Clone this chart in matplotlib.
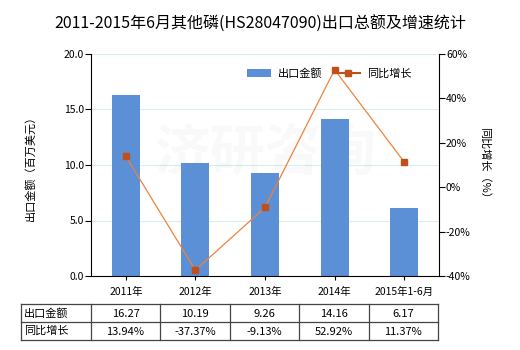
import matplotlib
matplotlib.use('Agg')
import matplotlib.pyplot as plt
from matplotlib.lines import Line2D
from matplotlib.patches import Patch

plt.rcParams['font.family'] = ['Noto Sans CJK SC', 'DejaVu Sans']

# 数据
categories = ['2011年', '2012年', '2013年', '2014年', '2015年1-6月']
export_value = [16.27, 10.19, 9.26, 14.16, 6.17]
growth_rate = [13.94, -37.37, -9.13, 52.92, 11.37]
value_labels = ['16.27', '10.19', '9.26', '14.16', '6.17']
growth_labels = ['13.94%', '-37.37%', '-9.13%', '52.92%', '11.37%']

bar_color = '#5B8FD6'
line_color = '#F0823A'
marker_color = '#C0501A'

W, H = 520, 350
fig = plt.figure(figsize=(W / 100, H / 100), dpi=100)

# 主图区域（像素换算成比例）
left, right, top, bottom = 91, 439, 54, 276
ax = fig.add_axes([left / W, 1 - bottom / H, (right - left) / W, (bottom - top) / H])
x = list(range(len(categories)))

ax.bar(x, export_value, width=0.4, color=bar_color, zorder=2)
ax.set_xlim(-0.5, len(categories) - 0.5)
ax.set_ylim(0, 20)
ax.set_yticks([0, 5, 10, 15, 20])
ax.set_yticklabels(['0.0', '5.0', '10.0', '15.0', '20.0'], fontsize=7.5)
ax.set_xticks(x)
ax.set_xticklabels(categories, fontsize=7.5)
ax.yaxis.grid(True, color='#D8EEEE', linewidth=0.8, zorder=0)
ax.set_axisbelow(True)
for s in ['top', 'right']:
    ax.spines[s].set_visible(False)
ax.tick_params(axis='y', length=4, width=0.8, pad=1)
ax.tick_params(axis='x', length=3, width=0.8, pad=5)
ax.set_ylabel('出口金额（百万美元）', fontsize=8, labelpad=20)

ax2 = ax.twinx()
ax2.plot(x, growth_rate, color=line_color, linewidth=0.9, marker='s',
         markersize=4, markerfacecolor=marker_color, markeredgecolor=marker_color, zorder=3)
ax2.set_ylim(-40, 60)
ax2.set_yticks([-40, -20, 0, 20, 40, 60])
ax2.set_yticklabels(['-40%', '-20%', '0%', '20%', '40%', '60%'], fontsize=7.5)
for s in ['top', 'left', 'bottom']:
    ax2.spines[s].set_visible(False)
ax2.tick_params(axis='y', length=4, width=0.8, pad=1)
ax2.set_ylabel('同比增长（%）', fontsize=8, rotation=270, labelpad=14)

# 水印
ax.text(0.5, 0.55, '济研咨询', transform=ax.transAxes, fontsize=40, color='#000000',
        alpha=0.025, ha='center', va='center', fontweight='bold', zorder=1)

handles = [Patch(facecolor=bar_color, edgecolor='none'),
           Line2D([0], [0], color=marker_color, linewidth=1.5, marker='s', markersize=4)]
ax.legend(handles, ['出口金额', '同比增长'], ncol=2, loc='upper right',
          bbox_to_anchor=(0.95, 0.98), frameon=False, fontsize=8,
          handlelength=2.2, columnspacing=1.2, handletextpad=0.6)

fig.suptitle('2011-2015年6月其他磷(HS28047090)出口总额及增速统计', fontsize=11.5, y=0.955)

# 底部数据表
t_left, t_right, t_top, t_bottom = 21, 438, 304, 340
tab = fig.add_axes([t_left / W, 1 - t_bottom / H, (t_right - t_left) / W, (t_bottom - t_top) / H])
tab.set_axis_off()
first_w = (left - t_left) / ((right - left) / len(categories))
tab.set_xlim(-0.5 - first_w, len(categories) - 0.5)
tab.set_ylim(0, 2)
lc = '#444444'
xmin, xmax = -0.5 - first_w, len(categories) - 0.5
for yy in [0, 1, 2]:
    tab.plot([xmin, xmax], [yy, yy], color=lc, linewidth=0.9, clip_on=False)
for xx in [xmin] + [i - 0.5 for i in range(len(categories) + 1)]:
    tab.plot([xx, xx], [0, 2], color=lc, linewidth=0.9, clip_on=False)
tab.text(xmin + 0.04, 1.5, '出口金额', fontsize=8, va='center', ha='left')
tab.text(xmin + 0.04, 0.5, '同比增长', fontsize=8, va='center', ha='left')
for i in x:
    tab.text(i, 1.45, value_labels[i], fontsize=8, va='center', ha='center')
    tab.text(i, 0.45, growth_labels[i], fontsize=8, va='center', ha='center')

fig.savefig('out.png', dpi=100)
